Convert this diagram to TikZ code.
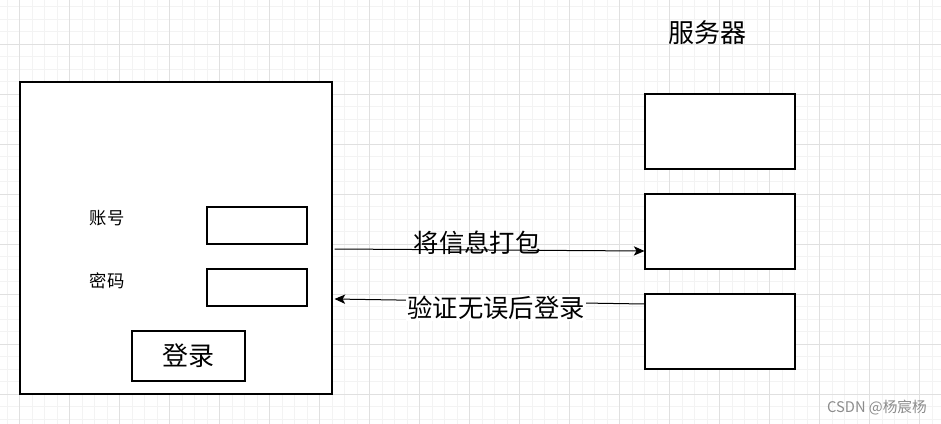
\documentclass[tikz,border=0pt]{standalone}
\usepackage{fontspec}
\newfontfamily\cjk{Noto Sans CJK SC}
\usetikzlibrary{arrows.meta,calc}
\definecolor{gridminor}{RGB}{243,243,243}
\definecolor{gridmajor}{RGB}{224,224,224}

\begin{document}
\begin{tikzpicture}[x=0.75pt, y=-0.75pt, every node/.style={font=\cjk},
	box/.style={draw=black, line width=0.8pt, rectangle, inner sep=0pt},
	srvbox/.style={box, minimum width=112.5pt, minimum height=56.25pt},
	inbox/.style={box, minimum width=75pt, minimum height=27.75pt},
	lbl/.style={inner sep=1pt, font=\cjk\fontsize{19pt}{19pt}\selectfont},
	flow/.style={draw=black, line width=0.75pt, -{Stealth[length=8pt, width=7pt, inset=2pt]}}]
			\useasboundingbox (0,0) rectangle (941,424);
			\fill[white] (0,0) rectangle (941,424);
			
			% grid
			\foreach \x in {0,...,75} \draw[gridminor, line width=0.75pt] (7+12.5*\x,0) -- (7+12.5*\x,424);
			\foreach \y in {0,...,34} \draw[gridminor, line width=0.75pt] (0,6.8+12.5*\y) -- (941,6.8+12.5*\y);
			\foreach \x in {0,...,18} \draw[gridmajor, line width=0.75pt] (19.5+50*\x,0) -- (19.5+50*\x,424);
			\foreach \y in {0,...,7} \draw[gridmajor, line width=0.75pt] (0,44.3+50*\y) -- (941,44.3+50*\y);
			
			% login window
			\node[box, fill=white, minimum width=234pt, minimum height=234pt] (panel) at (176,238){};
			\node (user) at (107,218){\fontsize{13pt}{13pt}\selectfont 账号};
			\node (pwd) at (107,281){\fontsize{13pt}{13pt}\selectfont 密码};
			\node[inbox] (userin) at (257,225.5){};
			\node[inbox] (pwdin) at (257,287.5){};
			\node[box, minimum width=84.75pt, minimum height=37.5pt, font=\cjk\fontsize{19.5pt}{19.5pt}\selectfont] (login) at (188.5,356){登录};
			
			% server
			\node[font=\cjk\fontsize{19.5pt}{19.5pt}\selectfont] (title) at (707,33){服务器};
			\node[srvbox, fill=white] (srv1) at (720,131.5){};
			\node[srvbox, fill=white] (srv2) at (720,231.5){};
			\node[srvbox, fill=white] (srv3) at (720,331.5){};
			
			\path[flow] ($(panel.east)+(2,11)$) -- ($(srv2.west)+(0,19.5)$);
			\path[flow] ($(srv3.west)+(0,-27.5)$) -- ($(panel.east)+(2,61)$);
			\node[lbl] (pack) at (477,243){将信息打包};
			\node[lbl, fill=white] (verify) at (496,308){验证无误后登录};
			
			\node[text=black!45, font=\cjk\fontsize{11pt}{11pt}\selectfont] (mark) at (877,408){CSDN @杨宸杨};
			\end{tikzpicture}
\end{document}
